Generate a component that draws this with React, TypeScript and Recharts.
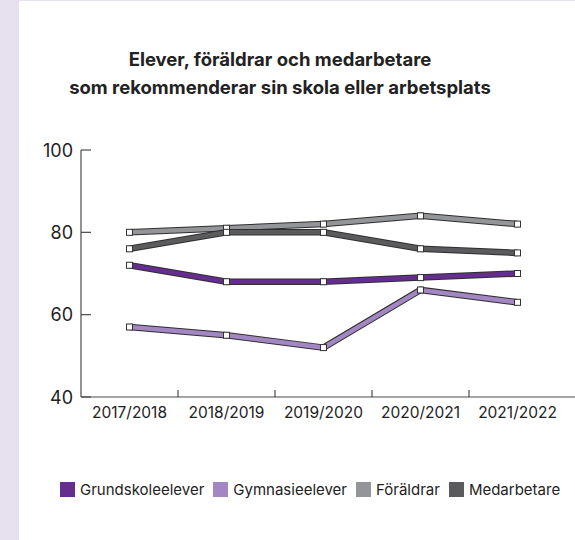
import { LineChart, Line, XAxis, YAxis } from 'recharts';

const years = ['2017/2018', '2018/2019', '2019/2020', '2020/2021', '2021/2022'];
const grundskoleelever = [72, 68, 68, 69, 70];
const gymnasieelever = [57, 55, 52, 66, 63];
const foraldrar = [80, 81, 82, 84, 82];
const medarbetare = [76, 80, 80, 76, 75];
const yTicks = [40, 60, 80, 100];

const series = [
  { key: 'gymnasie', name: 'Gymnasieelever', color: '#A287C2' },
  { key: 'grundskole', name: 'Grundskoleelever', color: '#662D91' },
  { key: 'foraldrar', name: 'Föräldrar', color: '#939598' },
  { key: 'medarbetare', name: 'Medarbetare', color: '#5B5B5D' },
];
const legendOrder = ['grundskole', 'gymnasie', 'foraldrar', 'medarbetare'];

const data = years.map((year, i) => ({
  year,
  grundskole: grundskoleelever[i],
  gymnasie: gymnasieelever[i],
  foraldrar: foraldrar[i],
  medarbetare: medarbetare[i],
}));

const font = 'Inter, "Open Sans", sans-serif';

const SquareDot = (props: any) => {
  const { cx, cy } = props;
  if (cx == null || cy == null) return null;
  return <rect x={cx - 3} y={cy - 3} width={6} height={6} fill="#fff" stroke="#333" strokeWidth={1} />;
};

const YTick = (props: any) => {
  const { x, y, payload } = props;
  return (
    <g>
      <line x1={x} x2={x + 10} y1={y} y2={y} stroke="#4a4a4a" strokeWidth={1.2} />
      <text x={x - 8} y={y} textAnchor="end" dominantBaseline="central" fontSize={18} fill="#222" fontFamily={font}>
        {payload.value}
      </text>
    </g>
  );
};

const XTick = (props: any) => {
  const { x, y, payload, index } = props;
  const half = payload.offset ?? 0;
  return (
    <g>
      {index < years.length - 1 && (
        <line x1={x + half} x2={x + half} y1={y} y2={y - 7} stroke="#4a4a4a" strokeWidth={1.2} />
      )}
      <text x={x} y={y + 15} textAnchor="middle" dominantBaseline="central" fontSize={15.5} fill="#222" fontFamily={font}>
        {payload.value}
      </text>
    </g>
  );
};

export default function App() {
  return (
    <div style={{ position: 'absolute', left: 0, top: 0, width: 575, height: 540, background: '#E7E1EF', overflow: 'hidden' }}>
      <div style={{ position: 'absolute', left: 19, top: 1, width: 556, height: 539, background: '#fff' }} />
      <div
        style={{
          position: 'absolute', left: 0, width: 560, top: 45, textAlign: 'center',
          fontFamily: font, fontWeight: 700, fontSize: 18.5, lineHeight: '28px', color: '#222',
        }}
      >
        Elever, föräldrar och medarbetare
        <br />
        som rekommenderar sin skola eller arbetsplats
      </div>
      <div style={{ position: 'absolute', left: 0, top: 0 }}>
        <LineChart width={575} height={540} data={data} margin={{ top: 150, right: 0, left: 0, bottom: 0 }}>
          <XAxis
            dataKey="year"
            scale="band"
            height={143}
            padding={{ left: 0, right: 9 }}
            tick={<XTick />}
            tickLine={false}
            tickSize={0}
            tickMargin={0}
            axisLine={{ stroke: '#4a4a4a', strokeWidth: 1.2 }}
            interval={0}
          />
          <YAxis
            width={81}
            domain={[40, 100]}
            ticks={yTicks}
            tick={<YTick />}
            tickLine={false}
            tickSize={0}
            tickMargin={0}
            axisLine={{ stroke: '#4a4a4a', strokeWidth: 1.2 }}
            interval={0}
          />
          {series.map((s) => [
            <Line key={s.key + '-o'} dataKey={s.key} stroke="#2e2e2e" strokeWidth={6.5} dot={false} activeDot={false} isAnimationActive={false} legendType="none" />,
            <Line key={s.key + '-c'} dataKey={s.key} stroke={s.color} strokeWidth={4.5} dot={false} activeDot={false} isAnimationActive={false} legendType="none" />,
          ])}
          {series.map((s) => (
            <Line key={s.key + '-d'} dataKey={s.key} stroke="none" dot={<SquareDot />} activeDot={false} isAnimationActive={false} legendType="none" />
          ))}
        </LineChart>
      </div>
      <div
        style={{
          position: 'absolute', left: 60, top: 480, display: 'flex', alignItems: 'center',
          fontFamily: font, fontSize: 15, color: '#222', whiteSpace: 'nowrap',
        }}
      >
        {legendOrder.map((k) => {
          const s = series.find((x) => x.key === k)!;
          return (
            <div key={k} style={{ display: 'flex', alignItems: 'center', marginRight: 9 }}>
              <span style={{ width: 15, height: 15, background: s.color, display: 'inline-block', marginRight: 5 }} />
              <span>{s.name}</span>
            </div>
          );
        })}
      </div>
    </div>
  );
}
